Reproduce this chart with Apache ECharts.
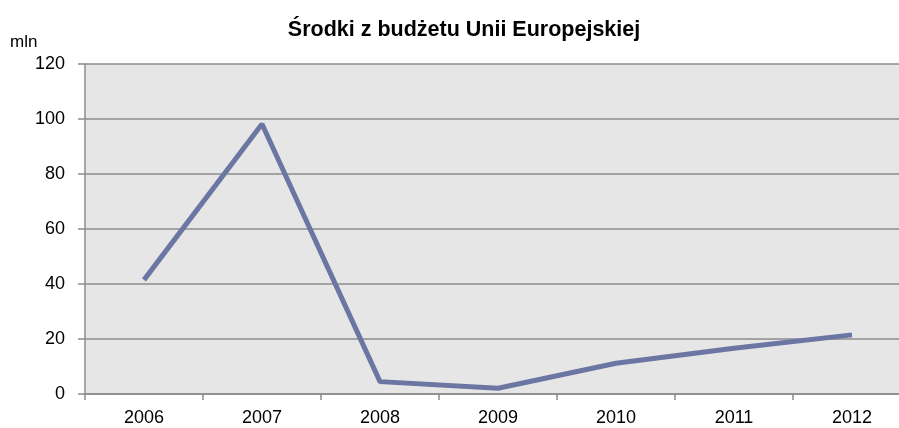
<!DOCTYPE html>
<html><head><meta charset="utf-8">
<script src="https://cdn.jsdelivr.net/npm/echarts@6/dist/echarts.min.js"></script>
<style>html,body{margin:0;padding:0;background:#fff}#c{width:899px;height:428px}</style>
</head><body><div id="c"></div>
<script>
const years = ['2006','2007','2008','2009','2010','2011','2012'];
const values = [41.5, 98.2, 4.5, 2.1, 11.2, 16.6, 21.5];
const yTicks = [0, 20, 40, 60, 80, 100, 120];
const titleText = 'Środki z budżetu Unii Europejskiej';
const unitText = 'mln';

const chart = echarts.init(document.getElementById('c'));
const font = '"Liberation Sans", Arial, sans-serif';
chart.setOption({
  animation: false,
  title: {text: titleText, left: 459, top: 14, textAlign: 'center',
    textStyle: {fontFamily: font, fontSize: 21.5, fontWeight: 'bold', color: '#000'}},
  graphic: [{type: 'text', left: 10, top: 34, style: {text: unitText, font: '17px ' + font, fill: '#000'}}],
  grid: {left: 85, width: 826, top: 64, bottom: 34, show: true, backgroundColor: '#e6e6e6', borderWidth: 0,
         outerBoundsMode: 'none'},
  xAxis: {type: 'category', data: years, boundaryGap: true,
     axisLine: {lineStyle: {color: '#8c8c8c', width: 1.5}},
     axisTick: {show: true, length: 6, lineStyle: {color: '#8c8c8c', width: 1.5}},
     axisLabel: {fontFamily: font, fontSize: 18, color: '#000', margin: 15},
     splitLine: {show: false}},
  yAxis: {type: 'value', min: yTicks[0], max: yTicks[yTicks.length-1], interval: 20,
      splitLine: {show: true, lineStyle: {color: '#8c8c8c', width: 1.5}},
      axisLine: {show: true, lineStyle: {color: '#8c8c8c', width: 1.5}},
      axisTick: {show: true, length: 7, lineStyle: {color: '#8c8c8c', width: 1.5}},
      axisLabel: {fontFamily: font, fontSize: 18, color: '#000', margin: 20}},
  series: [{
    type: 'line', data: values,
    symbol: 'none', lineStyle: {color: '#6b76a3', width: 5}
  }]
});
</script></body></html>
